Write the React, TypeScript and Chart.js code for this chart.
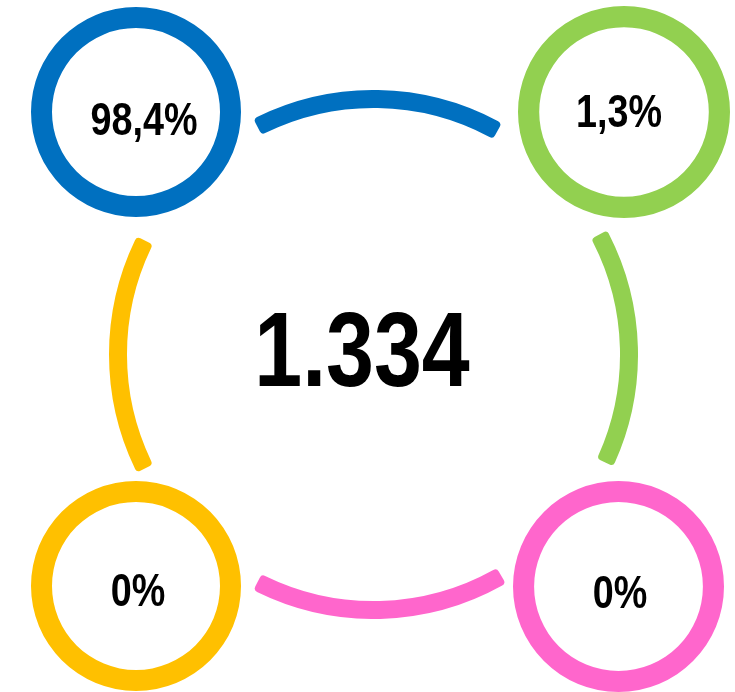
import React, { useEffect, useRef } from "react";
import { Chart, registerables } from "chart.js";

Chart.register(...registerables);

// ---- data ----
const totalLabel = "1.334";
const cornerLabels = ["98,4%", "1,3%", "0%", "0%"];
const cornerValues = [98.4, 1.3, 0, 0];
const cornerColors = ["#0070C0", "#92D050", "#FFC000", "#FF66CC"];
// decorative outer ring: arc, gap, arc, gap ... (degrees, clockwise from top)
const ringSegments = [56, 33, 53, 35, 57, 36.5, 53, 36.5];
const ringColors = ["#0070C0", "rgba(0,0,0,0)", "#92D050", "rgba(0,0,0,0)", "#FF66CC", "rgba(0,0,0,0)", "#FFC000", "rgba(0,0,0,0)"];

// ---- layout (styles) ----
const BIG = { left: 109, top: 90, size: 529, cutout: "93.2%", rotation: -27 };
const CORNERS = [
  { left: 31, top: 7, size: 210, tx: 8, ty: 23 },
  { left: 518, top: 6, size: 212, tx: -5, ty: 15 },
  { left: 31, top: 481, size: 210, tx: 2, ty: 20 },
  { left: 513, top: 481, size: 211, tx: 1.5, ty: 21.5 },
];

const FONT_FAMILY = '"Liberation Sans", Arial, "DejaVu Sans", sans-serif';

function drawNarrowText(ctx: CanvasRenderingContext2D, text: string, x: number, y: number, size: number) {
  ctx.save();
  ctx.translate(x, y);
  ctx.scale(0.82, 1);
  ctx.font = `bold ${size}px ${FONT_FAMILY}`;
  ctx.fillStyle = "#000";
  ctx.textAlign = "center";
  ctx.textBaseline = "alphabetic";
  ctx.fillText(text, 0, 0);
  ctx.restore();
}

const centerTextPlugin = {
  id: "centerText",
  afterDraw(chart: any) {
    const o = chart.options.plugins.centerText;
    if (!o || !o.text) return;
    const { chartArea } = chart;
    const cx = (chartArea.left + chartArea.right) / 2;
    const cy = (chartArea.top + chartArea.bottom) / 2;
    drawNarrowText(chart.ctx, o.text, cx + o.dx, cy + o.dy, o.size);
  },
};

function RingChart(props: {
  data: number[];
  colors: string[];
  cutout: string;
  rotation: number;
  borderRadius: number;
  text: string;
  textSize: number;
  dx: number;
  dy: number;
  left: number;
  top: number;
  size: number;
}) {
  const ref = useRef<HTMLCanvasElement | null>(null);
  useEffect(() => {
    if (!ref.current) return;
    const chart = new Chart(ref.current, {
      type: "doughnut",
      data: {
        labels: props.data.map((_, i) => String(i)),
        datasets: [
          {
            data: props.data,
            backgroundColor: props.colors,
            borderWidth: 0,
            borderRadius: props.borderRadius,
            hoverOffset: 0,
            offset: 0,
          } as any,
        ],
      },
      options: {
        responsive: false,
        maintainAspectRatio: false,
        animation: false,
        events: [],
        cutout: props.cutout,
        rotation: props.rotation,
        layout: { padding: 0 },
        plugins: {
          legend: { display: false },
          tooltip: { enabled: false },
          centerText: { text: props.text, size: props.textSize, dx: props.dx, dy: props.dy },
        } as any,
      },
      plugins: [centerTextPlugin],
    });
    return () => chart.destroy();
  }, []);
  return (
    <canvas
      ref={ref}
      width={props.size}
      height={props.size}
      style={{ position: "absolute", left: props.left, top: props.top, width: props.size, height: props.size }}
    />
  );
}

export default function App() {
  return (
    <div style={{ position: "absolute", left: 0, top: 0, width: 735, height: 692, background: "#fff", overflow: "hidden" }}>
      <RingChart
        data={ringSegments}
        colors={ringColors}
        cutout={BIG.cutout}
        rotation={BIG.rotation}
        borderRadius={4}
        text={totalLabel}
        textSize={105}
        dx={362 - (BIG.left + BIG.size / 2)}
        dy={386 - (BIG.top + BIG.size / 2)}
        left={BIG.left}
        top={BIG.top}
        size={BIG.size}
      />
      {cornerLabels.map((label, i) => (
        <RingChart
          key={i}
          data={[100]}
          colors={[cornerColors[i]]}
          cutout="80%"
          rotation={0}
          borderRadius={0}
          text={label}
          textSize={46}
          dx={CORNERS[i].tx}
          dy={CORNERS[i].ty}
          left={CORNERS[i].left}
          top={CORNERS[i].top}
          size={CORNERS[i].size}
        />
      ))}
    </div>
  );
}
